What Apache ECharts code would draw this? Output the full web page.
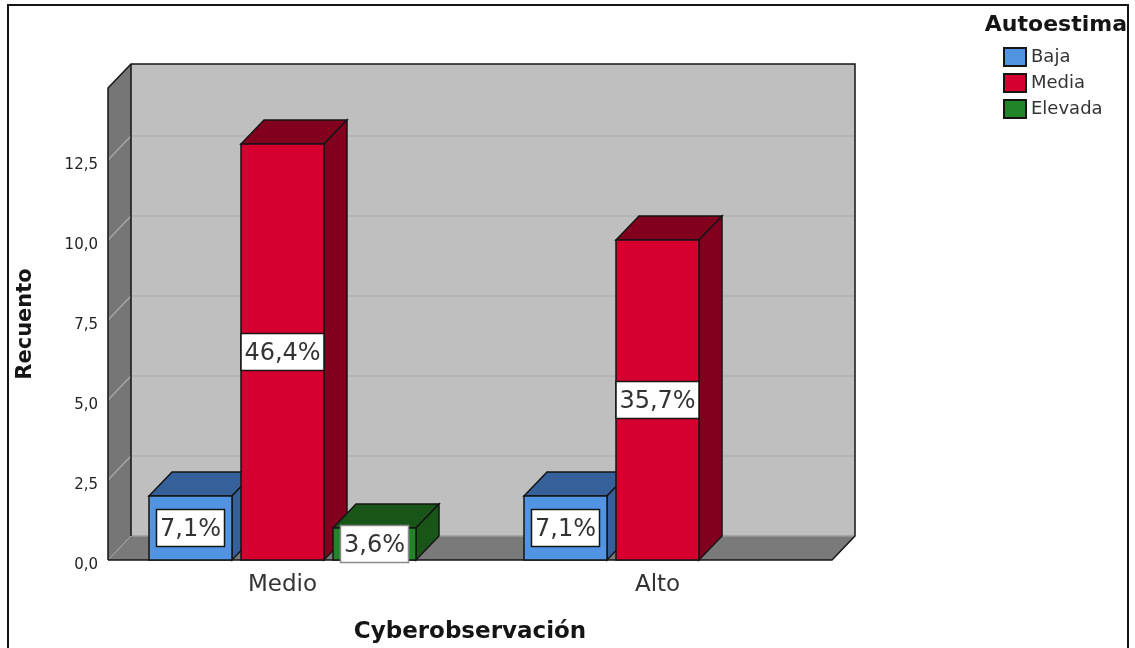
<!DOCTYPE html>
<html><head><meta charset="utf-8">
<style>html,body{margin:0;padding:0;background:#fff}#c{width:1135px;height:648px}</style>
<script src="https://cdn.jsdelivr.net/npm/echarts@6/dist/echarts.min.js"></script>
</head><body><div id="c"></div>
<script>
const categories = ['Medio', 'Alto'];
const tickValues = [0, 2.5, 5, 7.5, 10, 12.5];
const baja = [2, 2];
const media = [13, 10];
const elevada = [1, null];
const bajaPct = ['7,1%', '7,1%'];
const mediaPct = ['46,4%', '35,7%'];
const elevadaPct = ['3,6%', null];

const font = '"DejaVu Sans", "Liberation Sans", Arial, sans-serif';
const DX = 23, DY = 24, INSET = 13, INK = '#151515';
const LBL_H = 37;

function poly(points, fill, stroke, lw) {
  return { type: 'polygon', shape: { points }, style: { fill, stroke: stroke === undefined ? INK : stroke, lineWidth: lw === undefined ? 1.5 : lw } };
}
function line(points, stroke, lw) {
  return { type: 'polyline', shape: { points }, style: { fill: 'none', stroke, lineWidth: lw === undefined ? 1.5 : lw } };
}
function wallsItem(params, api) {
  const cs = params.coordSys;
  const l = cs.x + INSET, r = cs.x + cs.width - INSET, b = cs.y + cs.height, t = cs.y;
  const kids = [
    poly([[l + DX, t - DY], [r + DX, t - DY], [r + DX, b - DY], [l + DX, b - DY]], '#BFBFBF', 'none', 0),
    poly([[l, t], [l + DX, t - DY], [l + DX, b - DY], [l, b]], '#767676', 'none', 0),
    poly([[l, b], [r, b], [r + DX, b - DY], [l + DX, b - DY]], '#7A7A7A', 'none', 0)
  ];
  tickValues.slice(1).forEach(v => {
    const y = api.coord([0, v])[1];
    kids.push(line([[l, y], [l + DX, y - DY]], '#A6A6A6'));
    kids.push(line([[l + DX, y - DY], [r + DX, y - DY]], '#B2B2B2'));
  });
  kids.push(line([[l, b], [l + DX, b - DY]], '#A6A6A6', 1));
  kids.push(line([[l + DX, b - DY], [r + DX, b - DY]], '#9A9A9A', 1.5));
  kids.push(line([[l, b], [l, t], [l + DX, t - DY], [r + DX, t - DY], [r + DX, b - DY], [r, b], [l, b]], INK));
  kids.push(line([[l + DX, t - DY], [l + DX, b - DY]], INK));
  return { type: 'group', children: kids };
}
function barSeries(name, values, labels, slot, front, dark) {
  return {
    type: 'custom', name, coordinateSystem: 'cartesian2d', z: 3 + slot,
    itemStyle: { color: front, borderColor: INK, borderWidth: 1.5 },
    data: values.map((v, i) => [i, v, labels[i]]).filter(d => d[1] !== null),
    encode: { x: 0, y: 1 },
    renderItem(params, api) {
      const cat = api.value(0), val = api.value(1);
      const base = api.coord([cat, 0]), top = api.coord([cat, val]);
      const band = api.size([1, 0])[0];
      const w = band * 0.2213, step = band * 0.2453;
      const x0 = Math.round(base[0] + (slot - 1) * step - w / 2), x1 = x0 + Math.round(w);
      const y0 = top[1], y1 = base[1];
      const text = labels[cat];
      const boxW = text.length > 4 ? 83 : 68;
      const cx = (x0 + x1) / 2, cy = (y0 + y1) / 2;
      return { type: 'group', children: [
        poly([[x0, y0], [x1, y0], [x1 + DX, y0 - DY], [x0 + DX, y0 - DY]], dark),
        poly([[x1, y0], [x1 + DX, y0 - DY], [x1 + DX, y1 - DY], [x1, y1]], dark),
        poly([[x0, y0], [x1, y0], [x1, y1], [x0, y1]], front),
        { type: 'rect', shape: { x: cx - boxW / 2, y: cy - LBL_H / 2, width: boxW, height: LBL_H },
          style: { fill: '#fff', stroke: val < 2 ? '#8a8a8a' : INK, lineWidth: 1.5 } },
        { type: 'text', x: cx, y: cy + 1.5, style: { text, fill: '#333', font: '400 24px ' + font, align: 'center', verticalAlign: 'middle' } }
      ] };
    }
  };
}

const chart = echarts.init(document.getElementById('c'));
chart.setOption({
  animation: false,
  backgroundColor: '#fff',
  graphic: [{ type: 'rect', z: 0, silent: true, shape: { x: 8, y: 5, width: 1120, height: 660 }, style: { fill: 'none', stroke: INK, lineWidth: 2 } }],
  title: { text: 'Autoestima', right: 8, top: 14, padding: 0, textStyle: { fontFamily: font, fontWeight: 700, fontSize: 22, color: '#151515' } },
  legend: {
    data: ['Baja', 'Media', 'Elevada'], orient: 'vertical', left: 1003, top: 47, padding: 0,
    icon: 'rect', itemWidth: 22, itemHeight: 18, itemGap: 6, selectedMode: false,
    textStyle: { fontFamily: font, fontSize: 18, color: '#333' }
  },
  grid: { left: 95, right: 290, top: 88, bottom: 88, outerBoundsMode: 'none' },
  xAxis: {
    type: 'category', data: categories,
    axisLine: { show: false }, axisTick: { show: false }, splitLine: { show: false },
    axisLabel: { fontFamily: font, fontSize: 23, color: '#333', margin: 14 },
    name: 'Cyberobservación', nameLocation: 'center', nameGap: 61,
    nameTextStyle: { fontFamily: font, fontWeight: 700, fontSize: 23, color: '#151515' }
  },
  yAxis: {
    type: 'value', min: 0, max: 14.75, interval: 2.5, offset: -13,
    axisLine: { show: false }, axisTick: { show: false }, splitLine: { show: false },
    axisLabel: { fontFamily: font, fontSize: 15, lineHeight: 10, verticalAlign: 'top', color: '#222', margin: 10, showMaxLabel: false,
      formatter: v => v.toFixed(1).replace('.', ',') },
    name: 'Recuento', nameLocation: 'center', nameGap: 72, nameRotate: 90,
    nameTextStyle: { fontFamily: font, fontWeight: 700, fontSize: 21, color: '#151515' }
  },
  series: [
    { type: 'custom', name: 'walls', coordinateSystem: 'cartesian2d', z: 1, silent: true, data: [[0, 0]], renderItem: wallsItem, encode: { x: 0, y: 1 } },
    barSeries('Baja', baja, bajaPct, 0, '#5294E2', '#36609A'),
    barSeries('Media', media, mediaPct, 1, '#D60030', '#82001E'),
    barSeries('Elevada', elevada, elevadaPct, 2, '#228428', '#1A5518')
  ]
});
</script></body></html>
